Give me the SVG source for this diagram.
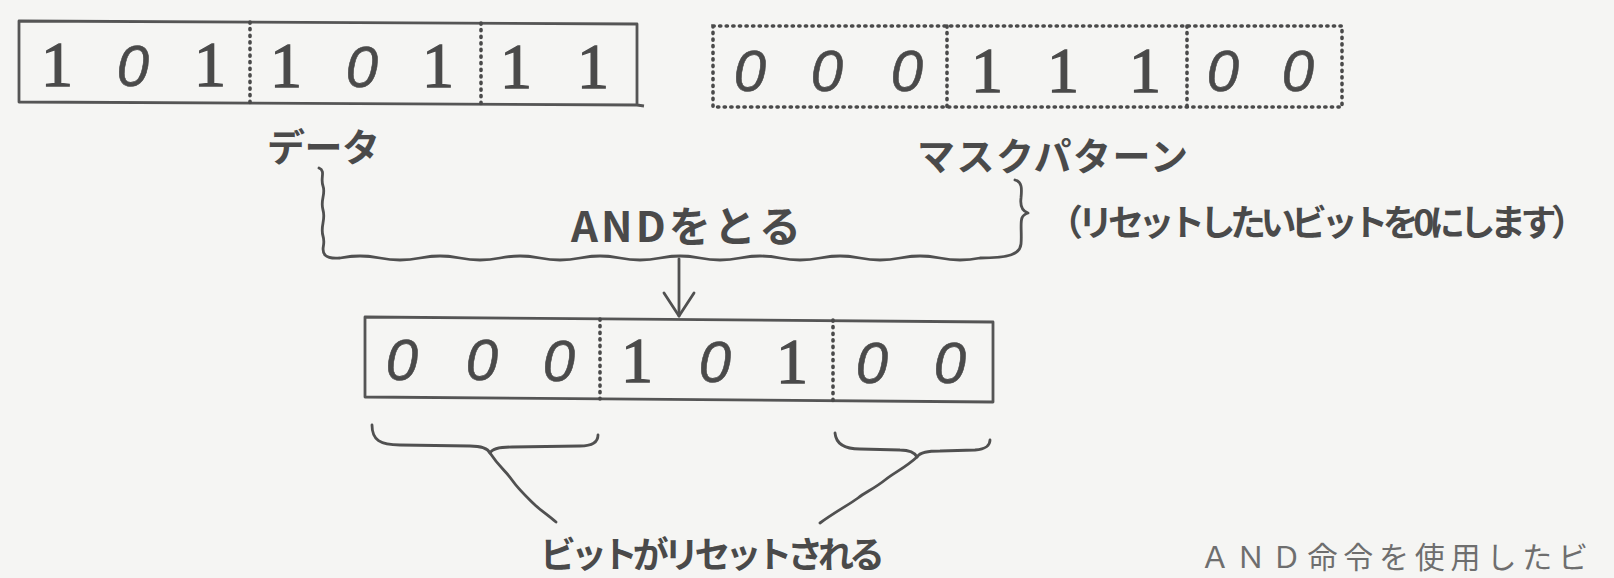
<svg xmlns="http://www.w3.org/2000/svg" width="1614" height="578" viewBox="0 0 1614 578">
<style>
.bg{fill:#f5f5f3}
.box{fill:none;stroke:#555;stroke-width:2.8;stroke-linejoin:round}
.dot{fill:none;stroke:#4a4a4a;stroke-width:3.6;stroke-linecap:round;stroke-dasharray:1.2 5.4}
.one{font-family:"Liberation Serif",serif;font-size:64px;fill:#4a4a4a;text-anchor:middle;stroke:#4a4a4a;stroke-width:1.4}
.zero{font-family:"Liberation Sans",sans-serif;font-style:italic;font-size:58px;fill:#4a4a4a;text-anchor:middle;stroke:#4a4a4a;stroke-width:0.6}
.hand{font-family:"Noto Sans CJK JP",sans-serif;font-weight:700;fill:#4a4a4a}
.print{font-family:"Noto Sans CJK JP",sans-serif;font-weight:400;fill:#6e6e6e}
.line{fill:none;stroke:#505050;stroke-width:2.8;stroke-linecap:round;stroke-linejoin:round}
</style>
<rect class="bg" x="0" y="0" width="1614" height="578"/>

<g id="data">
  <path class="box" d="M19 21 L637 24 L637 105 L19 102 Z M637 105 L644 106"/>
  <line class="dot" x1="250" y1="22" x2="250" y2="103"/>
  <line class="dot" x1="481" y1="23" x2="481" y2="104"/>
  <text class="one" x="57" y="86">1</text>
  <text class="zero" x="133" y="86">0</text>
  <text class="one" x="210" y="86">1</text>
  <text class="one" x="286" y="87">1</text>
  <text class="zero" x="362" y="87">0</text>
  <text class="one" x="438" y="87">1</text>
  <text class="one" x="516" y="88">1</text>
  <text class="one" x="593" y="88">1</text>
  <text class="hand" x="267" y="161" font-size="38" textLength="113">データ</text>
</g>

<g id="mask">
  <rect class="dot" x="713" y="26" width="629" height="81"/>
  <line class="dot" x1="947" y1="26" x2="947" y2="107"/>
  <line class="dot" x1="1187" y1="26" x2="1187" y2="107"/>
  <text class="zero" x="750" y="91">0</text>
  <text class="zero" x="827" y="91">0</text>
  <text class="zero" x="907" y="91">0</text>
  <text class="one" x="987" y="92">1</text>
  <text class="one" x="1063" y="92">1</text>
  <text class="one" x="1145" y="92">1</text>
  <text class="zero" x="1223" y="91">0</text>
  <text class="zero" x="1298" y="91">0</text>
  <text class="hand" x="917" y="170" font-size="38" textLength="271">マスクパターン</text>
</g>

<g id="and-label">
  <text class="hand" x="571" y="242" font-size="42" textLength="230">ANDをとる</text>
</g>

<g id="mask-note">
  <text class="hand" x="1047" y="236" font-size="36" textLength="540">（リセットしたいビットを0にします）</text>
</g>

<g id="result">
  <path class="box" d="M365 317 L993 322 L993 402 L365 397 Z"/>
  <line class="dot" x1="600" y1="319" x2="600" y2="399"/>
  <line class="dot" x1="833" y1="320" x2="833" y2="401"/>
  <text class="zero" x="402" y="380">0</text>
  <text class="zero" x="482" y="380">0</text>
  <text class="zero" x="559" y="381">0</text>
  <text class="one" x="637" y="382">1</text>
  <text class="zero" x="715" y="382">0</text>
  <text class="one" x="792" y="383">1</text>
  <text class="zero" x="872" y="383">0</text>
  <text class="zero" x="950" y="383">0</text>
</g>

<g id="reset-label">
  <text class="hand" x="540" y="568" font-size="36" textLength="345">ビットがリセットされる</text>
</g>

<g id="caption">
  <text class="print" x="1200" y="568" font-size="30" textLength="388">ＡＮＤ命令を使用したビ</text>
</g>

<g id="connectors">
  <path class="line" d="M319 168 C326 171 320 178 323 186 S320 200 323 210 S320 226 323 236 S320 249 325 255 Q329 259 340 258 q20 -4 40 0 t40 0 t40 0 t40 0 t40 0 t40 0 t40 0 t40 0 t40 0 t40 0 t40 0 t40 0 t40 0 t40 0 t40 0 t40 0 C1010 258 1020 254 1021 244 C1022 234 1020 222 1022 218 C1023 215 1025 214 1028 213 C1022 211 1020 206 1021 198 C1022 188 1022 182 1015 180"/>
  <path class="line" d="M679 259 L679 316"/>
  <path class="line" d="M664 293 L679 316 L694 293"/>
  <path class="line" d="M372 425 C372 440 380 445 400 445 L470 446 C482 446 488 449 490 453 C492 449 500 447 512 447 L580 446 C592 446 598 442 598 435"/>
  <path class="line" d="M490 453 C500 468 505 470 512 480 S528 498 534 504 S548 515 556 522"/>
  <path class="line" d="M835 433 C836 444 844 449 860 449 L900 450 C910 450 915 453 917 457 C920 452 928 451 940 451 L975 450 C986 449 990 446 990 440"/>
  <path class="line" d="M917 457 C905 468 895 472 885 480 S866 492 858 498 S835 512 820 523"/>
</g>
</svg>
